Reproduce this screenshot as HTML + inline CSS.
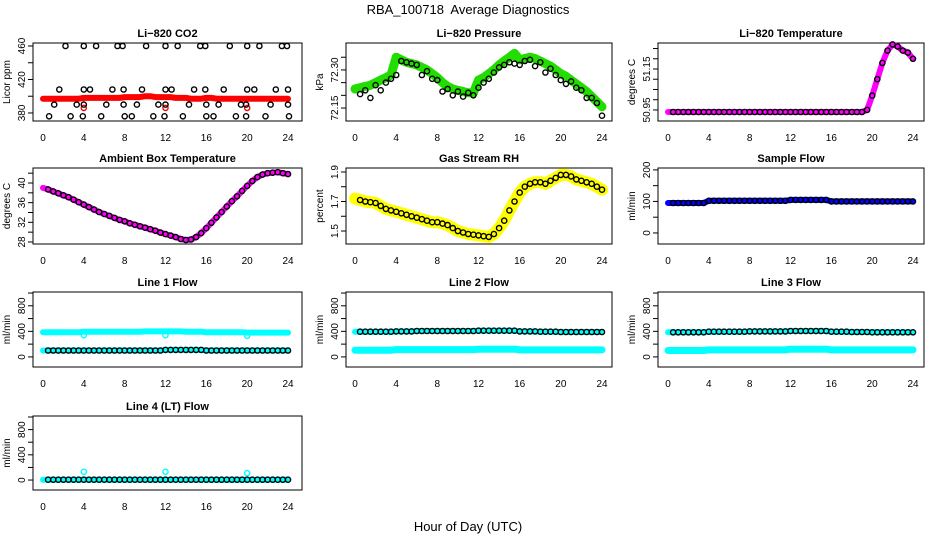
<!DOCTYPE html>
<html><head><meta charset="utf-8">
<style>
html,body{margin:0;padding:0;background:#fff;}
svg{display:block;font-family:"Liberation Sans",Arial,sans-serif;}
</style></head>
<body>
<svg id="chart" width="936" height="540" viewBox="0 0 936 540">
<text x="468" y="14" text-anchor="middle" font-size="13">RBA_100718&#160; Average Diagnostics</text>
<text x="468" y="531" text-anchor="middle" font-size="13">Hour of Day (UTC)</text>
</svg>
<script>
const hours = [0,0.5,1,1.5,2,2.5,3,3.5,4,4.5,5,5.5,6,6.5,7,7.5,8,8.5,9,9.5,10,10.5,11,11.5,12,12.5,13,13.5,14,14.5,15,15.5,16,16.5,17,17.5,18,18.5,19,19.5,20,20.5,21,21.5,22,22.5,23,23.5,24];
const xTicks = [0,4,8,12,16,20,24];

const co2Band = [397,397,397,397,397,397,397,397,398,398,398,398,398,398,398,398,399,399,399,399,400,400,399,399,399,399,398,398,398,397,397,397,398,398,397,397,397,397,397,397,397,397,397,397,397,397,397,397,397];
const co2PtHours = [2.2,4.0,5.2,7.3,7.8,10.1,12.0,13.2,15.4,15.9,18.3,20.0,21.2,23.4,23.9, 1.6,4.0,4.6,6.8,7.9,9.7,12.0,12.6,14.8,15.9,17.7,20.0,20.7,22.8,24.0, 1.1,3.3,4.0,6.2,7.9,9.2,11.3,12.0,14.3,16.0,17.2,19.4,19.9,22.3,24.0, 0.6,2.7,3.9,5.7,8.0,8.7,10.8,11.9,13.7,16.0,16.7,18.9,19.9,21.8,24.1];
const co2PtValues = [460,460,460,460,460,460,460,460,460,460,460,460,460,460,460, 408,408,408,408,408,408,408,408,408,408,408,408,408,408,408, 390,390,390,390,390,390,390,390,390,390,390,390,390,390,390, 376,376,376,376,376,376,376,376,376,376,376,376,376,376,376];
const co2RedHours = [4,12,20];
const co2RedValues = [386,386,386];

const pressBand = [72.225,72.23,72.235,72.24,72.25,72.26,72.27,72.28,72.35,72.34,72.33,72.325,72.32,72.31,72.30,72.285,72.27,72.25,72.235,72.225,72.22,72.215,72.21,72.21,72.26,72.27,72.285,72.30,72.32,72.335,72.35,72.365,72.34,72.345,72.35,72.345,72.335,72.325,72.315,72.30,72.285,72.275,72.26,72.245,72.23,72.215,72.195,72.175,72.155];
const pressPts = [72.21,72.205,72.22,72.19,72.24,72.22,72.25,72.265,72.28,72.335,72.33,72.325,72.32,72.28,72.295,72.265,72.26,72.215,72.225,72.20,72.215,72.195,72.21,72.20,72.23,72.25,72.265,72.29,72.31,72.32,72.33,72.325,72.32,72.335,72.34,72.315,72.33,72.29,72.305,72.28,72.26,72.245,72.255,72.23,72.22,72.19,72.19,72.17,72.12];

const tempBand = [50.94,50.94,50.94,50.94,50.94,50.94,50.94,50.94,50.94,50.94,50.94,50.94,50.94,50.94,50.94,50.94,50.94,50.94,50.94,50.94,50.94,50.94,50.94,50.94,50.94,50.94,50.94,50.94,50.94,50.94,50.94,50.94,50.94,50.94,50.94,50.94,50.94,50.94,50.94,50.95,51.02,51.10,51.18,51.24,51.27,51.26,51.24,51.23,51.20];

const ambBand = [39,38.7,38.3,37.9,37.5,37.1,36.6,36.1,35.6,35.1,34.6,34.1,33.7,33.3,32.9,32.5,32.2,31.8,31.5,31.2,30.9,30.6,30.3,29.9,29.6,29.3,29.0,28.6,28.4,28.5,29.0,29.8,30.8,31.9,33.0,34.1,35.2,36.3,37.3,38.4,39.4,40.4,41.2,41.7,42.0,42.1,42.2,42.0,41.8];

const rhBand = [1.72,1.71,1.70,1.695,1.69,1.67,1.65,1.64,1.63,1.62,1.61,1.60,1.59,1.58,1.57,1.56,1.56,1.55,1.54,1.52,1.50,1.49,1.48,1.475,1.47,1.465,1.46,1.48,1.52,1.57,1.64,1.70,1.76,1.80,1.82,1.83,1.83,1.82,1.84,1.86,1.88,1.88,1.87,1.85,1.84,1.83,1.82,1.80,1.78];

const sampleBand = [95,95,95,95,95,95,95,95,102,102,102,102,102,102,102,102,102,102,102,102,102,102,102,102,105,105,105,105,105,105,105,105,100,100,100,100,100,100,100,100,100,100,100,100,100,100,100,100,100];

const l1High = [385,385,385,385,385,385,385,385,395,395,395,395,395,395,395,395,395,395,395,395,400,400,400,400,400,400,400,400,395,395,395,395,385,385,385,385,385,385,385,385,380,380,380,380,380,380,380,380,380];
const l1Low = [100,100,100,100,100,100,100,100,100,100,100,100,100,100,100,100,100,100,100,100,100,100,100,100,110,110,110,110,110,110,110,110,100,100,100,100,100,100,100,100,100,100,100,100,100,100,100,100,100];
const l2High = [395,395,395,395,395,395,395,395,400,400,400,400,405,405,405,405,405,405,405,405,405,405,405,405,410,410,410,410,410,410,410,410,400,400,400,400,395,395,395,395,390,390,390,390,390,390,390,390,390];
const l2Low = [105,105,105,105,105,105,105,105,115,115,115,115,115,115,115,115,115,115,115,115,115,115,115,115,120,120,120,120,120,120,120,120,110,110,110,110,110,110,110,110,110,110,110,110,110,110,110,110,110];
const l3High = [385,385,385,385,385,385,385,385,395,395,395,395,395,395,395,395,400,400,400,400,400,400,400,400,405,405,405,405,405,405,405,405,395,395,395,395,390,390,390,390,385,385,385,385,385,385,385,385,385];
const l3Low = [100,100,100,100,100,100,100,100,110,110,110,110,110,110,110,110,110,110,110,110,110,110,110,110,120,120,120,120,120,120,120,120,110,110,110,110,110,110,110,110,110,110,110,110,110,110,110,110,110];
const l4Flow = [5,5,5,5,5,5,5,5,5,5,5,5,5,5,5,5,5,5,5,5,5,5,5,5,5,5,5,5,5,5,5,5,5,5,5,5,5,5,5,5,5,5,5,5,5,5,5,5,5];
const dipHours = [4,12,20];
const l1Dips = [340,340,330];
const l4Dips = [130,130,110];

const svg = document.getElementById('chart');
const NS = 'http://www.w3.org/2000/svg';
const cols = [{l:33,r:302,x0:43,x1:288},{l:346,r:612,x0:355,x1:602},{l:658,r:924,x0:668,x1:913}];
const rows = [{t:43,b:121},{t:168,b:244},{t:292,b:367},{t:416,b:490}];

function mk(tag, parent){ const e=document.createElementNS(NS,tag); parent.appendChild(e); return e; }

function panel(ci, ri, name, title, ylab, ymin, ymax, ticks, labels){
  const c=cols[ci], r=rows[ri];
  const g=mk('g',svg);
  
  
  const xs = h => c.x0 + (h/24)*(c.x1-c.x0);
  const ys = v => r.b - (v-ymin)/(ymax-ymin)*(r.b-r.t);
  const box=mk('rect',g);
  box.setAttribute('x',c.l); box.setAttribute('y',r.t); box.setAttribute('width',c.r-c.l); box.setAttribute('height',r.b-r.t);
  box.setAttribute('fill','none'); box.setAttribute('stroke','#000'); box.setAttribute('stroke-width','1');
  
  
  const t=mk('text',g);
  t.textContent=title; t.setAttribute('x',(c.l+c.r)/2); t.setAttribute('y',r.t-6);
  t.setAttribute('text-anchor','middle'); t.setAttribute('font-size','11'); t.setAttribute('font-weight','bold');
  
  
  const yl=mk('text',g);
  yl.textContent=ylab; const yc=(r.t+r.b)/2;
  yl.setAttribute('x',c.l-23); yl.setAttribute('y',yc); yl.setAttribute('text-anchor','middle');
  yl.setAttribute('font-size','10'); yl.setAttribute('transform','rotate(-90 '+(c.l-23)+' '+yc+')');
  
  
  ticks.forEach(v=>{
    const y=ys(v);
    const ln=mk('line',g);
    ln.setAttribute('x1',c.l-5); ln.setAttribute('x2',c.l); ln.setAttribute('y1',y); ln.setAttribute('y2',y); ln.setAttribute('stroke','#000');
    
    
  });
  labels.forEach(v=>{
    const y=ys(v); const x=c.l-8;
    const tx=mk('text',g);
    tx.textContent=String(v); tx.setAttribute('x',x); tx.setAttribute('y',y); tx.setAttribute('text-anchor','middle');
    tx.setAttribute('font-size','10'); tx.setAttribute('transform','rotate(-90 '+x+' '+y+')');
    
    
  });
  xTicks.forEach(h=>{
    const tx=mk('text',g);
    tx.textContent=String(h); tx.setAttribute('x',xs(h)); tx.setAttribute('y',r.b+20);
    tx.setAttribute('text-anchor','middle'); tx.setAttribute('font-size','10');
    
    
  });
  return {g, xs, ys};
}

function band(p, name, hs, vals, color, w){
  const pl=mk('polyline',p.g);
  pl.setAttribute('points', hs.map((h,i)=>p.xs(h).toFixed(1)+','+p.ys(vals[i]).toFixed(1)).join(' '));
  pl.setAttribute('fill','none'); pl.setAttribute('stroke',color); pl.setAttribute('stroke-width',w);
  pl.setAttribute('stroke-linejoin','round'); pl.setAttribute('stroke-linecap','round');
  
  
}
function pts(p, name, hs, vals, color, skipFirst){
  hs.forEach((h,i)=>{
    if(skipFirst && i===0) return;
    const c=mk('circle',p.g);
    c.setAttribute('cx',p.xs(h).toFixed(1)); c.setAttribute('cy',p.ys(vals[i]).toFixed(1)); c.setAttribute('r','2.6');
    c.setAttribute('fill','none'); c.setAttribute('stroke',color); c.setAttribute('stroke-width','1.4');
    
    
  });
}

let p;
p=panel(0,0,'co2','Li\u2212820 CO2','Licor ppm',370.4,463.6,[380,400,420,440,460],[380,420,460]);
band(p,'co2-red-band',hours,co2Band,'#ff0000',6);
pts(p,'co2-red-point',co2RedHours,co2RedValues,'#ff0000',false);
pts(p,'co2-black-point',co2PtHours,co2PtValues,'#000',false);

p=panel(1,0,'pressure','Li\u2212820 Pressure','kPa',72.099,72.406,[72.15,72.20,72.25,72.30,72.35],['72.15','72.30']);
band(p,'pressure-green-band',hours,pressBand,'#22dd00',9);
pts(p,'pressure-black-point',hours,pressPts,'#000',true);

p=panel(2,0,'li820-temp','Li\u2212820 Temperature','degrees C',50.896,51.277,[50.95,51.00,51.05,51.10,51.15,51.20,51.25],['50.95','51.15']);
band(p,'li820-temp-magenta-band',hours,tempBand,'#ff00ff',6);
pts(p,'li820-temp-black-point',hours,tempBand,'#000',true);

p=panel(0,1,'ambient','Ambient Box Temperature','degrees C',27.59,43.05,[28,30,32,34,36,38,40,42],[28,32,36,40]);
band(p,'ambient-magenta-band',hours,ambBand,'#ff00ff',6);
pts(p,'ambient-black-point',hours,ambBand,'#000',true);

p=panel(1,1,'rh','Gas Stream RH','percent',1.412,1.927,[1.5,1.6,1.7,1.8,1.9],['1.5','1.7','1.9']);
band(p,'rh-yellow-band',hours,rhBand,'#ffff00',12);
pts(p,'rh-black-point',hours,rhBand,'#000',true);

p=panel(2,1,'sample-flow','Sample Flow','ml/min',-35,206,[0,50,100,150,200],[0,100,200]);
band(p,'sample-blue-band',hours,sampleBand,'#0000ff',6);
pts(p,'sample-black-point',hours,sampleBand,'#000',true);

const flowTicks=[0,200,400,600,800,1000], flowLabels=[0,400,800];
p=panel(0,2,'line1','Line 1 Flow','ml/min',-158,1016,flowTicks,flowLabels);
band(p,'line1-cyan-high',hours,l1High,'#00ffff',6);
band(p,'line1-cyan-low',hours,l1Low,'#00ffff',6);
pts(p,'line1-cyan-dip',dipHours,l1Dips,'#00ffff',false);
pts(p,'line1-black-point',hours,l1Low,'#000',true);

p=panel(1,2,'line2','Line 2 Flow','ml/min',-158,1016,flowTicks,flowLabels);
band(p,'line2-cyan-high',hours,l2High,'#00ffff',6);
band(p,'line2-cyan-low',hours,l2Low,'#00ffff',7);
pts(p,'line2-black-point',hours,l2High,'#000',true);

p=panel(2,2,'line3','Line 3 Flow','ml/min',-158,1016,flowTicks,flowLabels);
band(p,'line3-cyan-high',hours,l3High,'#00ffff',6);
band(p,'line3-cyan-low',hours,l3Low,'#00ffff',7);
pts(p,'line3-black-point',hours,l3High,'#000',true);

p=panel(0,3,'line4','Line 4 (LT) Flow','ml/min',-158,1016,flowTicks,flowLabels);
band(p,'line4-cyan-band',hours,l4Flow,'#00ffff',6);
pts(p,'line4-cyan-dip',dipHours,l4Dips,'#00ffff',false);
pts(p,'line4-black-point',hours,l4Flow,'#000',true);
</script>
</body></html>
